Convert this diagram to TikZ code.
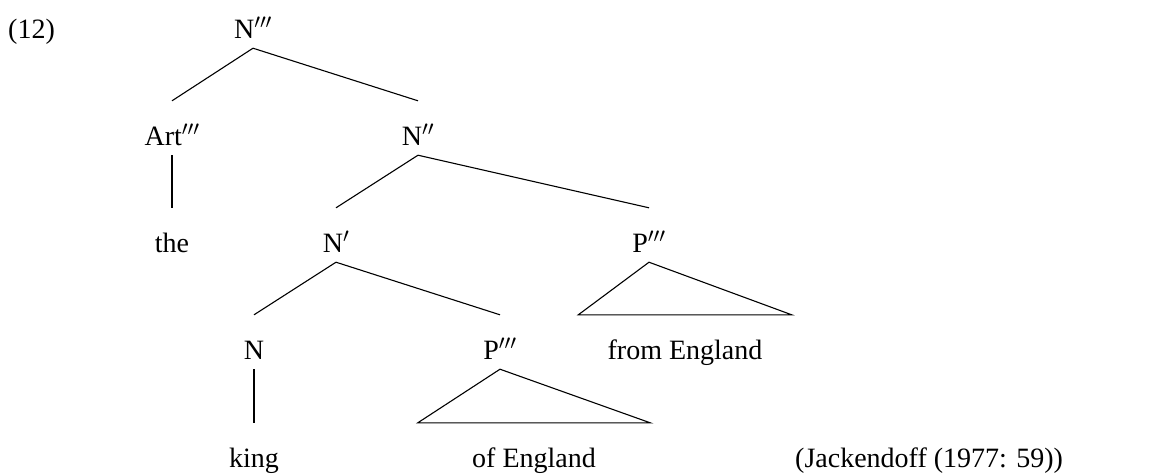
\documentclass[tikz,border=0pt]{standalone}
\usepackage{fontspec}
\setmainfont{Liberation Serif}
\usepackage{tikz}
\usetikzlibrary{positioning}

\begin{document}
\begin{tikzpicture}[
x=1pt,y=-1pt,
font=\fontsize{28}{32}\selectfont,
cat/.style={anchor=base,inner sep=0pt,text height=44pt,text depth=10pt},
leaf/.style={cat},
edge/.style={line width=1.1pt},
tri/.style={line width=1.1pt,line join=miter}
]
\useasboundingbox (0,0) rectangle (1155,475);
% labels
\node[anchor=base west,inner sep=0pt] (ex) at (8,38) {(12)};
\node[anchor=base west,inner sep=0pt] (src) at (795,467) {(Jackendoff (1977: 59))};
% tree nodes
\node[cat] (np3) at (253,38) {N$'''$};
\node[cat] (art) at (172,145) {Art$'''$};
\node[cat] (np2) at (418,145) {N$''$};
\node[leaf] (the) at (172,252) {the};
\node[cat] (np1) at (336,252) {N$'$};
\node[cat] (ppr) at (649,252) {P$'''$};
\node[cat] (n) at (254,359) {N};
\node[cat] (ppl) at (500,359) {P$'''$};
\node[leaf,minimum width=213pt] (fromE) at (685,359) {from England};
\node[leaf] (king) at (254,467) {king};
\node[leaf,minimum width=232pt] (ofE) at (534,467) {of England};
% branches
\draw[edge] (np3.south) -- (art.north);
\draw[edge] (np3.south) -- (np2.north);
\draw[edge] (art.south) -- (the.north);
\draw[edge] (np2.south) -- (np1.north);
\draw[edge] (np2.south) -- (ppr.north);
\draw[edge] (np1.south) -- (n.north);
\draw[edge] (np1.south) -- (ppl.north);
\draw[edge] (n.south) -- (king.north);
% triangles
\draw[tri] (ppr.south) -- (fromE.north west) -- (fromE.north east) -- cycle;
\draw[tri] (ppl.south) -- (ofE.north west) -- (ofE.north east) -- cycle;
\end{tikzpicture}
\end{document}
